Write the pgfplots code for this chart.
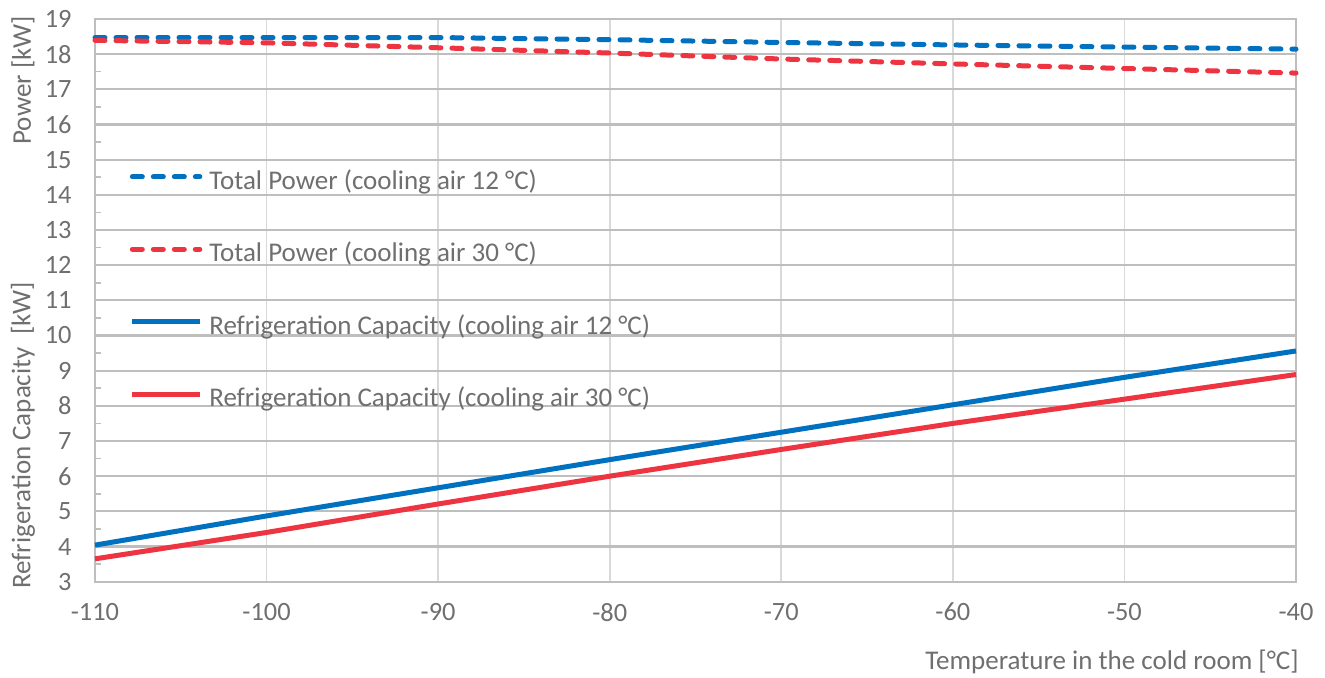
\documentclass[border=0pt]{standalone}
\usepackage{fontspec}
\setmainfont{Carlito}
\usepackage{pgfplots}
\pgfplotsset{compat=1.18}
\definecolor{cblue}{RGB}{0,112,192}
\definecolor{cred}{RGB}{238,52,64}
\definecolor{tgray}{RGB}{112,110,110}
\definecolor{hgrid}{RGB}{190,190,190}
\definecolor{vgrid}{RGB}{217,217,217}
\begin{document}
\begin{tikzpicture}
\begin{axis}[
  at={(0,0)}, anchor=south west,
  scale only axis,
  width=600.5pt, height=281.4pt,
  xmin=-110, xmax=-40, ymin=3, ymax=19,
  xtick={-110,-100,...,-40},
  ytick={3,4,...,19},
  minor y tick num=1,
  ytick pos=left,
  xtick style={draw=none},
  major tick length=0pt,
  minor tick length=3pt,
  tick align=inside,
  minor y tick style={hgrid, line width=0.8pt},
  ymajorgrids, xmajorgrids,
  y grid style={hgrid, line width=1.1pt},
  x grid style={vgrid, line width=0.9pt},
  axis line style={hgrid, line width=1pt},
  /pgf/number format/assume math mode=true,
  tick label style={font=\fontsize{13.2}{15}\selectfont, text=tgray},
  xticklabel style={anchor=center, yshift=-15.2pt, inner sep=0pt},
  yticklabel style={anchor=east, xshift=-11.5pt, inner sep=0pt},
  clip=false,
  legend cell align=left,
  legend image code/.code={\draw[#1] (0.5pt,0.32em) -- (34.25pt,0.32em);},
  legend style={
    at={(0.029,0.515)}, anchor=west,
    draw=none, fill=none, inner sep=0pt, outer sep=0pt,
    font=\fontsize{13.5}{16}\selectfont, text=tgray,
    row sep=24.2pt, column sep=3.5pt,
    nodes={inner sep=0pt, text height=9pt, text depth=3pt},
  },
]
\addplot[cblue, line width=2.5pt, line cap=round, dash pattern=on 5pt off 5.5pt] coordinates {
(-110,18.47) (-100,18.47) (-90,18.47) (-80,18.41) (-70,18.33) (-60,18.26) (-50,18.20) (-40,18.14)};
\addlegendentry{Total Power (cooling air 12 °C)}
\addplot[cred, line width=2.5pt, line cap=round, dash pattern=on 5pt off 5.5pt] coordinates {
(-110,18.39) (-100,18.32) (-90,18.18) (-80,18.03) (-70,17.86) (-60,17.72) (-50,17.59) (-40,17.46)};
\addlegendentry{Total Power (cooling air 30 °C)}
\addplot[cblue, line width=2.5pt] coordinates {
(-110,4.04) (-100,4.87) (-90,5.67) (-80,6.47) (-70,7.25) (-60,8.03) (-50,8.81) (-40,9.56)};
\addlegendentry{Refrigeration Capacity (cooling air 12 °C)}
\addplot[cred, line width=2.5pt] coordinates {
(-110,3.65) (-100,4.40) (-90,5.21) (-80,6.00) (-70,6.76) (-60,7.50) (-50,8.19) (-40,8.89)};
\addlegendentry{Refrigeration Capacity (cooling air 30 °C)}
\node[rotate=90, anchor=center, inner sep=0pt, text=tgray, font=\fontsize{13.5}{16}\selectfont] at ([xshift=-36pt]rel axis cs:0,0.891) {Power [kW]};
\node[rotate=90, anchor=center, inner sep=0pt, text=tgray, font=\fontsize{13.5}{16}\selectfont] at ([xshift=-36pt]rel axis cs:0,0.26) {Refrigeration Capacity\ \ [kW]};
\node[anchor=east, inner sep=0pt, text=tgray, font=\fontsize{13.5}{16}\selectfont] at ([xshift=1.5pt,yshift=-40pt]rel axis cs:1,0) {Temperature in the cold room [°C]};
\end{axis}
\pgfresetboundingbox
\path (-47.5pt,-47.65pt) rectangle (615pt,290.85pt);
\end{tikzpicture}
\end{document}
